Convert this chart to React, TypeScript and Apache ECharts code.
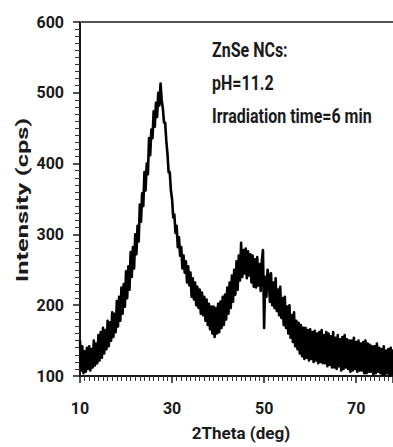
import React, { useEffect, useRef } from "react";
import * as echarts from "echarts";

// 2Theta sampling: start and step (deg)
const thetaStart = 10;
const thetaStep = 0.25;

// Intensity (cps), 4 samples per degree from 10 to 80
const intensity: number[] = [
  150, 108, 142, 104, // 10
  135, 106, 140, 110, // 11
  142, 108, 138, 112, // 12
  150, 115, 146, 118, // 13
  158, 122, 162, 126, // 14
  168, 132, 165, 138, // 15
  178, 142, 176, 150, // 16
  190, 155, 188, 162, // 17
  206, 170, 212, 178, // 18
  225, 188, 230, 198, // 19
  248, 210, 255, 222, // 20
  275, 240, 282, 252, // 21
  300, 272, 312, 290, // 22
  342, 318, 358, 340, // 23
  388, 362, 400, 385, // 24
  436, 412, 448, 436, // 25
  474, 452, 486, 466, // 26
  500, 482, 513, 490, // 27
  478, 458, 458, 432, // 28
  414, 388, 388, 362, // 29
  350, 324, 328, 302, // 30
  312, 282, 296, 270, // 31
  282, 252, 270, 246, // 32
  262, 232, 255, 228, // 33
  246, 212, 238, 208, // 34
  232, 200, 226, 196, // 35
  222, 188, 218, 186, // 36
  212, 178, 208, 172, // 37
  202, 166, 198, 160, // 38
  198, 155, 196, 160, // 39
  202, 162, 205, 168, // 40
  212, 172, 215, 180, // 41
  225, 188, 232, 196, // 42
  242, 205, 250, 215, // 43
  262, 222, 270, 235, // 44
  288, 240, 278, 245, // 45
  280, 238, 276, 242, // 46
  272, 232, 270, 226, // 47
  265, 225, 268, 228, // 48
  258, 220, 262, 278, // 49
  168, 240, 212, 250, // 50
  240, 205, 245, 200, // 51
  232, 196, 238, 192, // 52
  222, 186, 226, 182, // 53
  210, 172, 212, 168, // 54
  198, 160, 200, 154, // 55
  186, 148, 190, 142, // 56
  178, 138, 175, 132, // 57
  172, 128, 168, 124, // 58
  168, 126, 165, 122, // 59
  166, 124, 162, 120, // 60
  164, 122, 160, 118, // 61
  162, 120, 165, 118, // 62
  158, 118, 162, 114, // 63
  160, 116, 156, 112, // 64
  162, 112, 154, 110, // 65
  158, 114, 152, 108, // 66
  155, 110, 158, 112, // 67
  152, 110, 150, 106, // 68
  150, 108, 154, 110, // 69
  148, 106, 150, 108, // 70
  146, 108, 148, 104, // 71
  150, 104, 146, 106, // 72
  144, 106, 142, 102, // 73
  142, 104, 146, 106, // 74
  140, 104, 138, 102, // 75
  142, 102, 136, 104, // 76
  138, 100, 140, 102, // 77
  136, 102, 134, 100, // 78
  134, 100, 132, 101, // 79
  130,                // 80
];

const annotationLines = ["ZnSe NCs:", "pH=11.2", "Irradiation time=6 min"];
const xTitle = "2Theta (deg)";
const yTitle = "Intensity (cps)";

export default function App() {
  const ref = useRef<HTMLDivElement>(null);

  useEffect(() => {
    if (!ref.current) return;
    const chart = echarts.init(ref.current, null, { renderer: "svg" });
    const data = intensity.map((v, i) => [thetaStart + i * thetaStep, v]);
    const ink = "#1a1a1a";
    const font = "Roboto";

    chart.setOption({
      animation: false,
      backgroundColor: "#ffffff",
      grid: { left: 80, right: 0, top: 22, bottom: 71, containLabel: false },
      xAxis: [
        {
          type: "value",
          min: 10,
          max: 78,
          interval: 20,
          axisLine: { show: true, onZero: false, lineStyle: { color: ink, width: 2 } },
          axisTick: { show: true, inside: false, length: 7, lineStyle: { color: ink, width: 1.5 } },
          minorTick: { show: true, splitNumber: 20, length: 5, lineStyle: { color: "#333", width: 1 } },
          splitLine: { show: false },
          axisLabel: {
            margin: 24,
            color: ink,
            fontFamily: font,
            fontWeight: 700,
            fontSize: 16,
            showMaxLabel: false,
          },
        },
        {
          type: "value",
          position: "top",
          min: 10,
          max: 78,
          axisLine: { show: true, onZero: false, lineStyle: { color: "#555", width: 2 } },
          axisTick: { show: false },
          axisLabel: { show: false },
          splitLine: { show: false },
        },
      ],
      yAxis: {
        type: "value",
        min: 100,
        max: 600,
        interval: 100,
        axisLine: { show: true, onZero: false, lineStyle: { color: ink, width: 2 } },
        axisTick: { show: true, inside: false, length: 7, lineStyle: { color: ink, width: 1.5 } },
        minorTick: { show: true, splitNumber: 10, length: 5, lineStyle: { color: "#333", width: 1 } },
        splitLine: { show: false },
        axisLabel: {
          margin: 16,
          color: ink,
          fontFamily: font,
          fontWeight: 700,
          fontSize: 16,
        },
      },
      series: [
        {
          type: "line",
          xAxisIndex: 0,
          data,
          showSymbol: false,
          symbol: "none",
          clip: true,
          lineStyle: { color: "#000", width: 2.6, join: "round" },
        },
      ],
      graphic: [
        ...annotationLines.map((t, i) => ({
          type: "text",
          x: 212,
          y: 50 + i * 33,
          scaleY: 1.25,
          style: {
            text: t,
            fill: ink,
            font: `bold 16px ${font}`,
            textAlign: "left",
            textVerticalAlign: "middle",
          },
        })),
        {
          type: "text",
          x: 241,
          y: 433,
          style: {
            text: xTitle,
            fill: ink,
            font: `bold 17px ${font}`,
            textAlign: "center",
            textVerticalAlign: "middle",
          },
        },
        {
          type: "text",
          x: 22,
          y: 200,
          rotation: Math.PI / 2,
          scaleX: 1.5,
          style: {
            text: yTitle,
            fill: ink,
            font: `bold 17px ${font}`,
            textAlign: "center",
            textVerticalAlign: "middle",
          },
        },
      ],
    });

    return () => chart.dispose();
  }, []);

  return <div ref={ref} style={{ width: 393, height: 447, position: "absolute", left: 0, top: 0 }} />;
}
